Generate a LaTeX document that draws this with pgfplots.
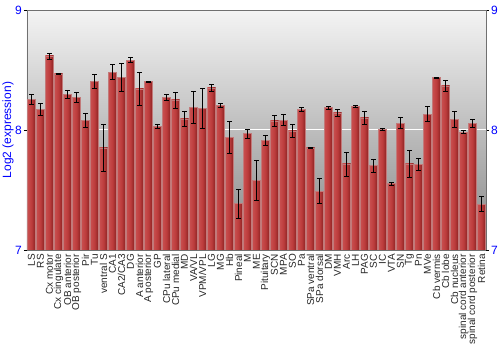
\documentclass[border=0pt]{standalone}
\usepackage{fontspec}
\setmainfont{Liberation Sans}
\usepackage{pgfplots}
\usepackage{pgfplotstable}
\pgfplotsset{compat=1.18}
\definecolor{bgtop}{HTML}{F4F4F4}
\definecolor{bgbot}{HTML}{868686}
\definecolor{barL}{HTML}{C94F4F}
\definecolor{barM}{HTML}{BC3C3C}
\definecolor{barR}{HTML}{8A2020}
\definecolor{barD}{HTML}{C27A7A}
\definecolor{axgrey}{HTML}{707070}
\pgfplotstableread{
x y e
0 8.256 0.040
1 8.172 0.047
2 8.617 0.025
3 8.467 0.005
4 8.294 0.032
5 8.269 0.042
6 8.078 0.060
7 8.406 0.057
8 7.850 0.196
9 8.483 0.064
10 8.439 0.118
11 8.583 0.022
12 8.342 0.138
13 8.403 0.005
14 8.031 0.015
15 8.269 0.024
16 8.250 0.067
17 8.092 0.060
18 8.186 0.133
19 8.178 0.165
20 8.350 0.028
21 8.206 0.018
22 7.939 0.136
23 7.386 0.122
24 7.969 0.036
25 7.581 0.164
26 7.914 0.044
27 8.075 0.049
28 8.083 0.043
29 7.992 0.051
30 8.172 0.017
31 7.850 0.003
32 7.489 0.105
33 8.186 0.011
34 8.142 0.030
35 7.717 0.100
36 8.197 0.008
37 8.100 0.055
38 7.703 0.053
39 8.008 0.008
40 7.553 0.011
41 8.058 0.047
42 7.717 0.115
43 7.714 0.047
44 8.133 0.061
45 8.436 0.006
46 8.367 0.044
47 8.089 0.069
48 7.983 0.014
49 8.053 0.035
50 7.383 0.061
}\datatable
\begin{document}
\begin{tikzpicture}
\path[use as bounding box] (0,0) rectangle (500pt,350pt);
\begin{axis}[
  scale only axis, width=459pt, height=240pt,
  at={(27pt,100pt)}, anchor=south west,
  xmin=-0.5, xmax=50.5, ymin=7, ymax=9,
  ytick={7,8,9}, ytick pos=left,
  xtick={0,...,50},
  xticklabels={LS,RS,Cx motor,Cx cingulate,OB anterior,OB posterior,Pir,Tu,ventral S,CA1,CA2/CA3,DG,A anterior,A posterior,GP,CPu lateral,CPu medial,MD,VA/VL,VPM/VPL,LG,MG,Hb,Pineal,M,ME,Pituitary,SCN,MPA,SO,Pa,SPa ventral,SPa dorsal,DM,VMH,Arc,LH,PAG,SC,IC,VTA,SN,Tg,Pn,MVe,Cb vermis,Cb lobe,Cb nucleus,spinal cord anterior,spinal cord posterior,Retina},
  xticklabel style={rotate=90, anchor=east, font=\fontsize{10}{10}\selectfont, text=black!85, inner sep=1pt},
  x tick style={draw=none},
  yticklabel style={text=blue, font=\fontsize{12}{12}\selectfont, inner sep=2pt},
  /pgf/number format/assume math mode=true,
  ylabel={Log2 (expression)},
  ylabel style={text=blue, font=\fontsize{12}{12}\selectfont, yshift=-4pt},
  tick align=outside, major tick length=3pt,
  y tick style={black, line width=0.8pt},
  axis line style={axgrey, line width=0.8pt},
  ymajorgrids, grid style={white, line width=1pt},
  axis background/.style={top color=bgtop, bottom color=bgbot},
  unbounded coords=discard,
]
\pgfplotsinvokeforeach{0,...,50}{
\addplot[ybar, bar shift=0pt, bar width=0.9, draw=barD, line width=0.5pt,
  left color=barL, right color=barR, middle color=barM,
  x filter/.expression={x==#1 ? x : nan}]
  table[x=x, y=y] {\datatable};
}
\addplot[black, only marks, mark=*, mark size=0pt,
  error bars/.cd, y dir=both, y explicit,
  error bar style={black, line width=0.9pt},
  error mark options={rotate=90, black, mark size=2.3pt, line width=0.9pt}]
  table[x=x, y=y, y error=e] {\datatable};
\end{axis}
\begin{axis}[
  scale only axis, width=459pt, height=240pt,
  at={(27pt,100pt)}, anchor=south west,
  xmin=-0.5, xmax=50.5, ymin=7, ymax=9,
  hide x axis,
  axis y line*=right,
  ytick={7,8,9},
  yticklabel style={text=blue, font=\fontsize{12}{12}\selectfont, inner sep=2pt},
  /pgf/number format/assume math mode=true,
  tick align=outside, major tick length=3pt,
  y tick style={black, line width=0.8pt},
  axis line style={axgrey, line width=0.8pt},
]
\end{axis}
\end{tikzpicture}
\end{document}
